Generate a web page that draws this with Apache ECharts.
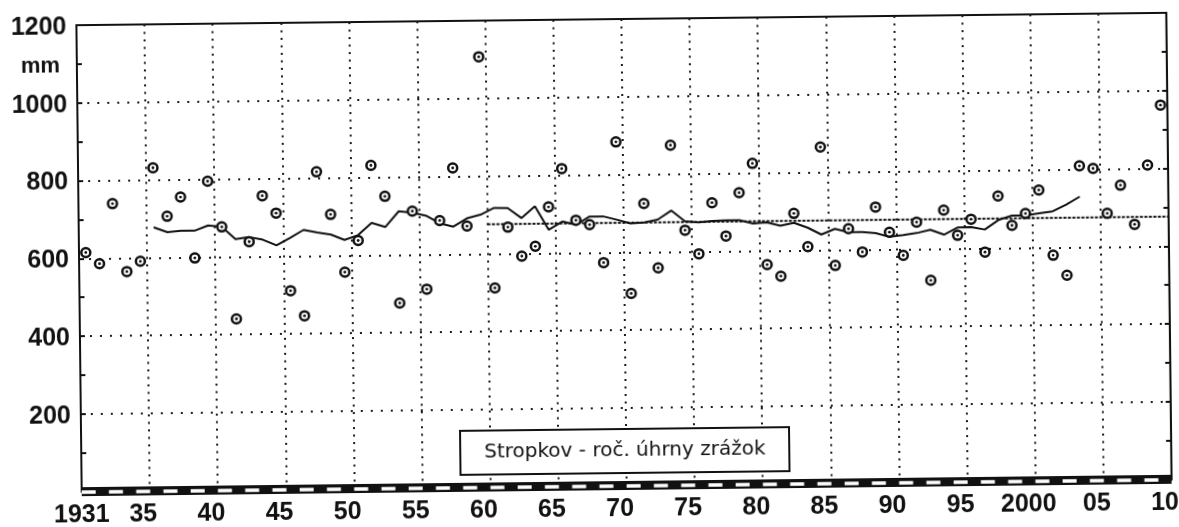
<!DOCTYPE html>
<html>
<head>
<meta charset="utf-8">
<script src="https://cdn.jsdelivr.net/npm/echarts@6/dist/echarts.min.js"></script>
<style>
  html, body { margin: 0; padding: 0; background: #fff; }
  /* the scanned chart is slightly tilted, so the whole drawing is turned a little */
  #chart { width: 1179px; height: 527px; transform: rotate(-0.65deg); transform-origin: 624px 251px; }
</style>
</head>
<body>
<div id="chart"></div>
<script>
// annual precipitation totals, Stropkov, 1931-2010 (mm)
var firstYear = 1931, lastYear = 2010;
var precipitation = [
    615, 586, 740, 565, 591, 831, 706, 755, 598, 795,
    677, 440, 638, 756, 711, 511, 446, 816, 706, 557,
    638, 831, 751, 476, 712, 511, 687, 822, 672, 1107,
    512, 668, 593, 618, 719, 817, 684, 672, 574, 884,
    494, 725, 559, 874, 655, 594, 725, 639, 750, 825,
    564, 534, 695, 609, 865, 560, 654, 594, 709, 644,
    584, 669, 519, 699, 634, 675, 590, 734, 658, 688,
    748, 580, 528, 809, 802, 686, 758, 657, 809, 963
];
// running mean as drawn on the chart, 1936-2005
var runFirstYear = 1936;
var runningMean = [
    678, 665, 668, 668, 681, 677, 645, 650, 643, 628,
    647, 667, 660, 654, 640, 652, 683, 672, 712, 708,
    700, 680, 671, 692, 701, 718, 717, 691, 721, 660,
    681, 672, 693, 693, 684, 674, 676, 683, 706, 678,
    675, 678, 679, 679, 670, 673, 664, 671, 658, 640,
    654, 645, 645, 642, 632, 636, 641, 649, 636, 654,
    655, 648, 672, 683, 683, 688, 693, 710, 730
];
// long-term mean line 1961-2010
var meanPeriod = [1961, 2010];
var meanValue = 676;

var xLabelYears = [1931, 1935, 1940, 1945, 1950, 1955, 1960, 1965, 1970, 1975, 1980, 1985, 1990, 1995, 2000, 2005, 2010];
var xLabelText = ['1931', '35', '40', '45', '50', '55', '60', '65', '70', '75', '80', '85', '90', '95', '2000', '05', '10'];
var yTickValues = [200, 400, 600, 800, 1000, 1200];
var unitText = 'mm', unitAt = 1100;
var titleText = 'Stropkov - roč. úhrny zrážok';

var years = [];
for (var y = firstYear; y <= lastYear; y++) years.push(String(y));

var scatterData = precipitation.map(function (v, i) { return [years[i], v]; });
var runData = runningMean.map(function (v, i) { return [String(runFirstYear + i), v]; });
var meanData = [[meanPeriod[0] - 0.5, meanValue], [meanPeriod[1] + 0.5, meanValue]];

var ink = '#111';
var labelFont = { fontFamily: 'Liberation Sans', fontSize: 25, fontWeight: 'bold', color: ink };

var myChart = echarts.init(document.getElementById('chart'));
var option = {
    animation: false,
    backgroundColor: '#fff',
    title: {
        text: titleText,
        left: 458,
        top: 429,
        padding: [12, 24],
        borderColor: ink,
        borderWidth: 2,
        backgroundColor: '#fff',
        textStyle: { fontFamily: 'DejaVu Sans', fontSize: 20, fontWeight: 'normal', color: ink }
    },
    grid: {
        left: 79, right: 10, top: 19, bottom: 41.4,
        show: true, borderColor: ink, borderWidth: 2, backgroundColor: '#fff'
    },
    xAxis: [
        {
            type: 'category',
            data: years,
            boundaryGap: true,
            position: 'bottom',
            offset: 3.5,
            axisLine: { lineStyle: { color: ink, width: 9, cap: 'butt' } },
            axisTick: { show: false },
            axisLabel: Object.assign({
                margin: 8,
                interval: function (i, v) { return xLabelYears.indexOf(+v) >= 0; },
                formatter: function (v) {
                    var t = xLabelText[xLabelYears.indexOf(+v)];
                    return +v === firstYear ? '{first|' + t + '}' : t;
                },
                rich: { first: { fontFamily: 'Liberation Sans', fontSize: 25, fontWeight: 'bold', color: ink, padding: [0, 14, 0, 0] } }
            }, labelFont),
            splitLine: { show: true, interval: 4, lineStyle: { color: '#1a1a1a', width: 2, type: [2, 5.5] } }
        },
        {
            type: 'value',
            min: firstYear - 0.5,
            max: lastYear + 0.5,
            position: 'bottom',
            offset: 3.5,
            z: 3,
            axisLine: { lineStyle: { color: '#fff', width: 3.5, type: [14, 13.25], cap: 'butt' } },
            axisTick: { show: false },
            axisLabel: { show: false },
            splitLine: { show: false }
        }
    ],
    yAxis: [
        {
            type: 'value',
            min: 0, max: 1200, interval: 100,
            position: 'left',
            axisLine: { show: true, lineStyle: { color: ink, width: 2 } },
            axisTick: { show: true, inside: true, length: 5, lineStyle: { color: ink, width: 2 } },
            axisLabel: Object.assign({
                margin: 10,
                padding: [4, 0, 0, 0],
                formatter: function (v) {
                    if (yTickValues.indexOf(v) >= 0) return String(v);
                    if (v === unitAt) return '{u|' + unitText + '}';
                    return '';
                },
                rich: { u: { fontFamily: 'Liberation Sans', fontSize: 22, fontWeight: 'bold', color: ink, padding: [0, 7, 0, 0] } }
            }, labelFont),
            splitLine: { show: false }
        },
        {
            type: 'value',
            min: 0, max: 1200, interval: 100,
            position: 'right',
            axisLine: { show: true, lineStyle: { color: ink, width: 2 } },
            axisTick: { show: true, inside: true, length: 5, lineStyle: { color: ink, width: 2 } },
            axisLabel: { show: false },
            splitLine: { show: false }
        },
        {
            type: 'value',
            min: 0, max: 1200, interval: 200,
            position: 'left',
            axisLine: { show: false },
            axisTick: { show: false },
            axisLabel: { show: false },
            splitLine: { show: true, showMinLine: false, showMaxLine: false, lineStyle: { color: '#1a1a1a', width: 2, type: [2, 8] } }
        }
    ],
    series: [
        {
            name: 'dlhodobý priemer',
            type: 'line',
            xAxisIndex: 1,
            data: meanData,
            symbol: 'none',
            lineStyle: { color: ink, width: 2, type: [3, 1.5] },
            z: 3
        },
        {
            name: 'kĺzavý priemer',
            type: 'line',
            data: runData,
            symbol: 'none',
            lineStyle: { color: ink, width: 2 },
            z: 4
        },
        {
            name: 'ročný úhrn',
            type: 'scatter',
            data: scatterData,
            symbol: 'circle',
            symbolSize: 9,
            itemStyle: { color: '#fff', borderColor: ink, borderWidth: 2.5, opacity: 1 },
            z: 5
        },
        {
            name: 'ročný úhrn bod',
            type: 'scatter',
            data: scatterData,
            symbol: 'circle',
            symbolSize: 2.8,
            itemStyle: { color: ink, opacity: 1 },
            silent: true,
            z: 6
        }
    ]
};
myChart.setOption(option);
</script>
</body>
</html>
